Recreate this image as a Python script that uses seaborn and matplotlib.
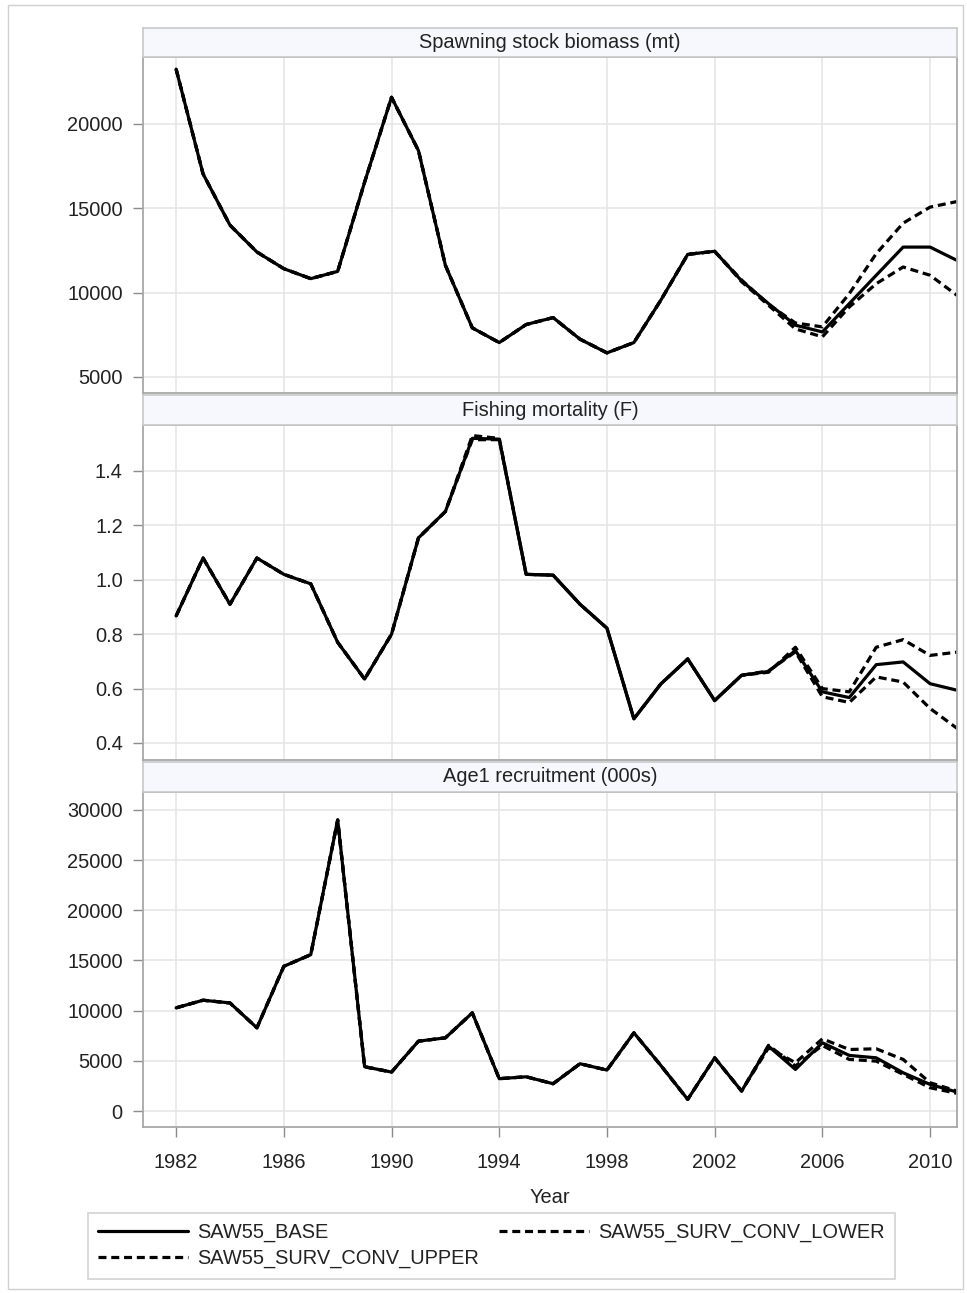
import numpy as np
import pandas as pd
import matplotlib
matplotlib.use("Agg")
import matplotlib.pyplot as plt
from matplotlib.patches import Rectangle
import seaborn as sns

# ---------------- data ----------------
years = list(range(1982, 2012))
series_names = ["SAW55_BASE", "SAW55_SURV_CONV_UPPER", "SAW55_SURV_CONV_LOWER"]

ssb_base = [23250, 17040, 14000, 12410, 11420, 10830, 11260, 16550, 21580, 18420,
            11620, 7910, 7040, 8110, 8520, 7240, 6430, 7040, 9550, 12270,
            12450, 10700, 9350, 8070, 7670, 9350, 11030, 12700, 12700, 11910]
ssb_upper = [23250, 17040, 14000, 12410, 11420, 10830, 11260, 16550, 21580, 18420,
             11620, 7910, 7040, 8110, 8520, 7240, 6430, 7040, 9550, 12270,
             12450, 10750, 9300, 8200, 7970, 9940, 12310, 14120, 15070, 15400]
ssb_lower = [23250, 17040, 14000, 12410, 11420, 10830, 11260, 16550, 21580, 18420,
             11620, 7910, 7040, 8110, 8520, 7240, 6430, 7040, 9550, 12270,
             12450, 10650, 9250, 7850, 7380, 9150, 10530, 11520, 11030, 9840]

f_base = [0.867, 1.080, 0.910, 1.080, 1.020, 0.985, 0.770, 0.635, 0.800, 1.154,
          1.251, 1.520, 1.517, 1.020, 1.017, 0.910, 0.822, 0.489, 0.617, 0.709,
          0.556, 0.649, 0.663, 0.740, 0.588, 0.567, 0.688, 0.698, 0.618, 0.594]
f_upper = [0.867, 1.080, 0.910, 1.080, 1.020, 0.985, 0.770, 0.635, 0.800, 1.154,
           1.251, 1.530, 1.520, 1.020, 1.017, 0.910, 0.822, 0.489, 0.617, 0.709,
           0.556, 0.649, 0.660, 0.752, 0.600, 0.588, 0.752, 0.780, 0.722, 0.734]
f_lower = [0.867, 1.080, 0.910, 1.080, 1.020, 0.985, 0.770, 0.635, 0.800, 1.154,
           1.251, 1.515, 1.515, 1.020, 1.017, 0.910, 0.822, 0.489, 0.617, 0.709,
           0.556, 0.649, 0.665, 0.735, 0.570, 0.549, 0.643, 0.624, 0.527, 0.454]

rec_base = [10280, 11040, 10770, 8290, 14420, 15580, 29000, 4410, 3880, 6960,
            7290, 9780, 3220, 3410, 2720, 4710, 4080, 7790, 4540, 1160,
            5300, 1990, 6460, 4140, 6800, 5540, 5300, 3810, 2650, 1890]
rec_upper = [10280, 11040, 10770, 8290, 14420, 15580, 29000, 4410, 3880, 6960,
             7290, 9780, 3220, 3410, 2720, 4710, 4080, 7790, 4540, 1160,
             5300, 1990, 6300, 4810, 7190, 6130, 6200, 5140, 2820, 1990]
rec_lower = [10280, 11040, 10770, 8290, 14420, 15580, 29000, 4410, 3880, 6960,
             7290, 9780, 3220, 3410, 2720, 4710, 4080, 7790, 4540, 1160,
             5300, 1990, 6550, 4480, 6530, 5140, 4970, 3650, 2320, 1760]

panel_titles = ["Spawning stock biomass (mt)", "Fishing mortality (F)", "Age1 recruitment (000s)"]
x_ticks = [1982, 1986, 1990, 1994, 1998, 2002, 2006, 2010]
ssb_ticks = [5000, 10000, 15000, 20000]
f_ticks = [0.4, 0.6, 0.8, 1.0, 1.2, 1.4]
rec_ticks = [0, 5000, 10000, 15000, 20000, 25000, 30000]

# ---------------- style ----------------
sns.set_style("white")
plt.rcParams["font.family"] = ["Liberation Sans", "DejaVu Sans"]

W, H = 967, 1293
fig = plt.figure(figsize=(W / 100, H / 100), dpi=100)

def fx(px):
    return px / W

def fy(py):
    return 1 - py / H

L, R = 143, 957
panels = [(57, 393), (425, 760), (792, 1127)]
headers = [(28, 57), (395, 425), (762, 792)]
datasets = [(ssb_base, ssb_upper, ssb_lower), (f_base, f_upper, f_lower),
            (rec_base, rec_upper, rec_lower)]
ylims = [(4050, 23970), (0.3375, 1.569), (-1594, 31790)]
yticks = [ssb_ticks, f_ticks, rec_ticks]

palette = {n: "black" for n in series_names}
dash = (2.5, 1.5)
dashes = {"SAW55_BASE": "", "SAW55_SURV_CONV_UPPER": dash, "SAW55_SURV_CONV_LOWER": dash}

FS = 14.4
spine_col = "#A8A8A8"
grid_col = "#E4E4E4"

handles, labels = None, None
for i in range(3):
    top, bot = panels[i]
    ax = fig.add_axes([fx(L), fy(bot), fx(R - L), (bot - top) / H])
    b, u, lo = datasets[i]
    df = pd.DataFrame({
        "Year": years * 3,
        "Value": list(b) + list(u) + list(lo),
        "Series": [series_names[0]] * len(years) + [series_names[1]] * len(years)
                  + [series_names[2]] * len(years),
    })
    sns.lineplot(data=df, x="Year", y="Value", hue="Series", style="Series",
                 hue_order=series_names, style_order=series_names,
                 palette=palette, dashes=dashes, linewidth=2.3, ax=ax,
                 legend=(i == 0), sort=False)
    if i == 0:
        hh, ll = ax.get_legend_handles_labels()
        keep = [(h, l) for h, l in zip(hh, ll) if l in series_names]
        handles = [k[0] for k in keep]
        labels = [k[1] for k in keep]
        if ax.get_legend() is not None:
            ax.get_legend().remove()
    ax.set_xlim(1980.77, 2011.0)
    ax.set_ylim(*ylims[i])
    ax.set_xticks(x_ticks)
    ax.set_yticks(yticks[i])
    if i == 1:
        ax.set_yticklabels([f"{t:.1f}" for t in f_ticks])
    else:
        ax.set_yticklabels([f"{t:d}" for t in yticks[i]])
    ax.grid(True, color=grid_col, linewidth=1.1)
    ax.set_axisbelow(True)
    for s in ax.spines.values():
        s.set_color(spine_col)
        s.set_linewidth(1.3)
    ax.tick_params(axis="y", which="both", left=True, length=7.5, width=1.0,
                   color="#8C8C8C", labelsize=FS, pad=7, labelcolor="#222222")
    ax.set_ylabel("")
    if i == 2:
        ax.tick_params(axis="x", bottom=True, length=7.5, width=1.0,
                       color="#8C8C8C", labelsize=FS, pad=11, labelcolor="#222222")
        ax.set_xlabel("Year", fontsize=FS, color="#222222", labelpad=12)
    else:
        ax.tick_params(axis="x", bottom=False, labelbottom=False)
        ax.set_xlabel("")

    # header strip
    ht, hb = headers[i]
    hax = fig.add_axes([fx(L), fy(hb), fx(R - L), (hb - ht) / H])
    hax.set_facecolor("#F7F8FD")
    hax.set_xticks([])
    hax.set_yticks([])
    for s in hax.spines.values():
        s.set_color("#C8C8C8")
        s.set_linewidth(1.2)
    hax.text(0.5, 0.5, panel_titles[i], ha="center", va="center",
             fontsize=FS, color="#222222", transform=hax.transAxes)

# legend
leg = fig.legend(handles, labels, ncol=2, loc="upper left",
                 bbox_to_anchor=(fx(88), fy(1213)), borderaxespad=0,
                 frameon=True, fancybox=False, edgecolor="#C8C8C8",
                 fontsize=FS, handlelength=4.5, handletextpad=0.45,
                 columnspacing=1.0, labelspacing=0.35, borderpad=0.5)
leg.get_frame().set_linewidth(1.2)
for t in leg.get_texts():
    t.set_color("#222222")

# outer border
fig.add_artist(Rectangle((fx(8), fy(1289)), fx(963 - 8), (1289 - 5) / H,
                         transform=fig.transFigure, fill=False,
                         edgecolor="#D0D0D0", linewidth=1.0))

fig.savefig("out.png", dpi=100, facecolor="white")
